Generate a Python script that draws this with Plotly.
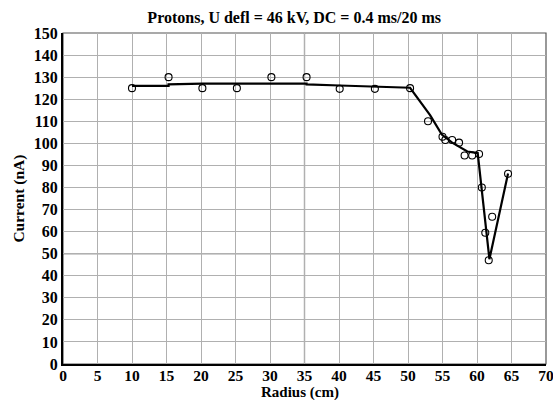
import plotly.graph_objects as go

# measured points (open circles)
radius_cm = [10, 15.3, 20.2, 25.2, 30.2, 35.3, 40.1, 45.2, 50.3, 52.9, 55.0, 55.4, 56.4, 57.4,
             58.2, 59.3, 60.3, 60.7, 61.2, 61.7, 62.2, 64.5]
current_nA = [125, 130, 125, 125, 130, 130, 124.7, 124.7, 125, 110, 103, 101.5, 101.5, 100.3,
              94.5, 94.5, 95.2, 80, 59.5, 47, 66.7, 86.2]

# trend line vertices
trend_x = [10, 15.3, 15.3, 20.2, 35.3, 35.3, 40.1, 45.2, 50.3, 53.2, 54.9, 56.4, 58.6, 60.1, 61.8, 64.5]
trend_y = [126, 126, 126.7, 127.1, 127.1, 126.7, 126.2, 125.6, 125.2, 112.8, 104, 100.3, 96.3, 95.6, 47.5, 86.3]

x_ticks = list(range(0, 71, 5))
y_ticks = list(range(0, 151, 10))

serif = "Liberation Serif, Times New Roman, serif"

fig = go.Figure()
fig.add_trace(go.Scatter(x=trend_x, y=trend_y, mode="lines",
                         line=dict(color="black", width=2.2), hoverinfo="skip"))
fig.add_trace(go.Scatter(x=radius_cm, y=current_nA, mode="markers",
                         marker=dict(symbol="circle-open", size=7, color="black",
                                     line=dict(width=1.1, color="#222222"))))

# darker mid grid lines
fig.add_shape(type="line", xref="x", yref="paper", x0=35, x1=35, y0=0, y1=1,
              line=dict(color="#444444", width=1.2), layer="below")
fig.add_shape(type="line", xref="paper", yref="y", x0=0, x1=1, y0=50, y1=50,
              line=dict(color="#444444", width=1.2), layer="below")
# thin border top/right
fig.add_shape(type="rect", xref="paper", yref="paper", x0=0, x1=1, y0=0, y1=1,
              line=dict(color="#555555", width=1.2), layer="below")

# axis titles
fig.add_annotation(text="<b>Radius (cm)</b>", xref="paper", yref="paper", x=0.49, y=-0.086,
                   xanchor="center", yanchor="middle", showarrow=False,
                   font=dict(size=15, family=serif, color="black"))
fig.add_annotation(text="<b>Current (nA)</b>", xref="paper", yref="paper", x=-0.093, y=0.5,
                   xanchor="center", yanchor="middle", showarrow=False, textangle=-90,
                   font=dict(size=15.5, family=serif, color="black"))

fig.update_layout(
    width=553, height=400,
    margin=dict(l=63, r=7, t=33, b=36),
    paper_bgcolor="white", plot_bgcolor="white",
    showlegend=False,
    title=dict(text="<b>Protons, U defl = 46 kV, DC = 0.4 ms/20 ms</b>",
               x=0.532, xanchor="center", y=0.957, yanchor="middle",
               font=dict(family=serif, size=16, color="black")),
    font=dict(family=serif, color="black"),
)
fig.update_xaxes(range=[0, 70], tickvals=x_ticks, ticktext=[f"<b>{v}</b>" for v in x_ticks],
                 tickfont=dict(size=15.5, family=serif, color="black"),
                 ticklabeloverflow="allow", automargin=False, ticklabelstandoff=-4,
                 showgrid=True, gridcolor="#b0b0b0", gridwidth=1,
                 showline=True, linecolor="black", linewidth=2, mirror=False,
                 ticks="", zeroline=False)
fig.update_yaxes(range=[0, 150], tickvals=y_ticks, ticktext=[f"<b>{v}</b>" for v in y_ticks],
                 tickfont=dict(size=16, family=serif, color="black"),
                 ticklabeloverflow="allow", automargin=False,
                 showgrid=True, gridcolor="#b0b0b0", gridwidth=1,
                 showline=True, linecolor="black", linewidth=2, mirror=False,
                 ticks="", zeroline=False)

fig.write_html("out.html")
